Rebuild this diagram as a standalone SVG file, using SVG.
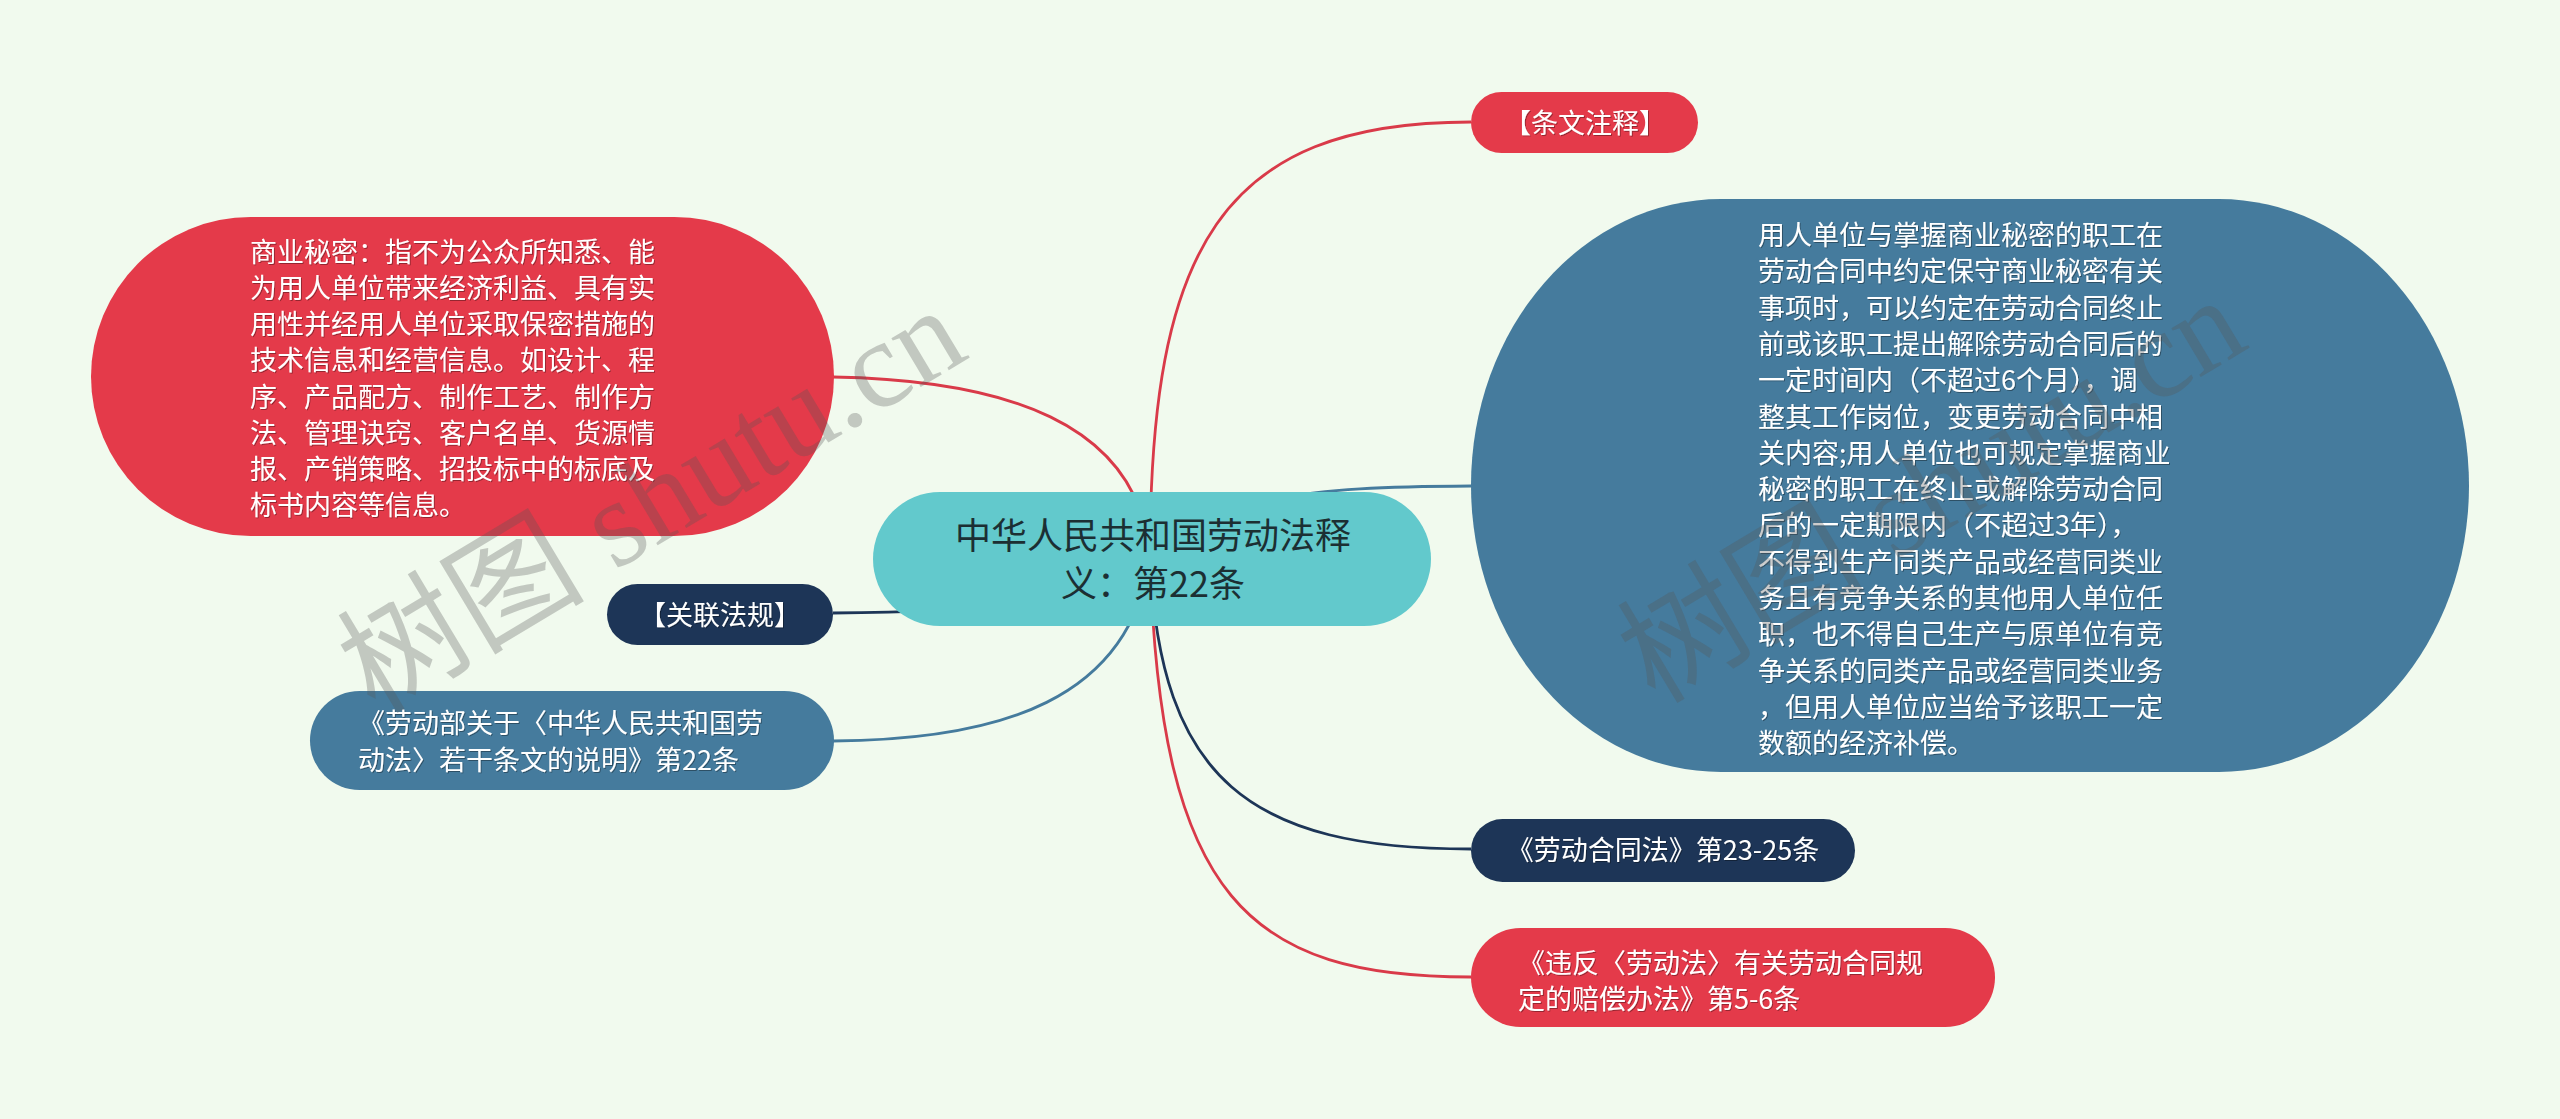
<svg xmlns="http://www.w3.org/2000/svg" width="2560" height="1119" viewBox="0 0 2560 1119">
<defs>
<filter id="sh" x="-5%" y="-5%" width="110%" height="110%">
<feDropShadow dx="1" dy="1" stdDeviation="0.6" flood-color="#000" flood-opacity="0.35"/>
</filter>
<style>
.t{font-family:"Noto Sans CJK SC","Noto Sans",sans-serif;font-size:27px;fill:#ffffff;}
.c{font-family:"Noto Sans CJK SC","Noto Sans",sans-serif;font-size:36px;fill:#1c2f33;}
.red{fill:#e43a4a;}
.blue{fill:#457b9d;}
.navy{fill:#1d3557;}
.teal{fill:#62c9cc;}
.ln{fill:none;stroke-width:2.8;}
.lr{stroke:#d93a49;}
.lb{stroke:#457b9d;}
.ln2{stroke:#1d3557;}
.wm{font-family:"Liberation Serif","Noto Sans CJK SC",serif;font-size:124px;fill:#555555;fill-opacity:0.3;}
</style>
</defs>
<rect x="0" y="0" width="2560" height="1119" fill="#f1faee"/>
<g id="connectors">
<path class="ln lr" d="M1150,558 C1150,250 1220,122 1471,122"/>
<path class="ln lr" d="M833,377 C1000,380 1140,420 1150,558"/>
<path class="ln lb" d="M1150,558 C1230,495 1300,487 1471,486"/>
<path class="ln ln2" d="M833,613 C1000,612 1100,600 1150,558"/>
<path class="ln lb" d="M833,741 C1000,740 1130,700 1150,558"/>
<path class="ln ln2" d="M1150,558 C1160,780 1250,849 1471,849"/>
<path class="ln lr" d="M1150,558 C1160,900 1250,977 1471,977"/>
</g>
<g id="node-center">
<rect class="teal" x="873" y="492" width="558" height="134" rx="67" ry="67"/>
<text class="c" x="1153" y="549" text-anchor="middle">中华人民共和国劳动法释</text>
<text class="c" x="1153" y="597" text-anchor="middle">义：第22条</text>
</g>
<g id="node-tiaowen">
<rect class="red" x="1471" y="92" width="227" height="61" rx="30.5"/>
<text class="t" x="1585" y="133" text-anchor="middle" filter="url(#sh)">【条文注释】</text>
</g>
<g id="node-shangye">
<rect class="red" x="91" y="217" width="743" height="319" rx="159.5"/>
<g filter="url(#sh)">
<text class="t" x="250" y="262">商业秘密：指不为公众所知悉、能</text>
<text class="t" x="250" y="298">为用人单位带来经济利益、具有实</text>
<text class="t" x="250" y="334">用性并经用人单位采取保密措施的</text>
<text class="t" x="250" y="370">技术信息和经营信息。如设计、程</text>
<text class="t" x="250" y="407">序、产品配方、制作工艺、制作方</text>
<text class="t" x="250" y="443">法、管理诀窍、客户名单、货源情</text>
<text class="t" x="250" y="479">报、产销策略、招投标中的标底及</text>
<text class="t" x="250" y="515">标书内容等信息。</text>
</g>
</g>
<g id="node-yongren">
<rect class="blue" x="1471" y="199" width="998" height="573" rx="250" ry="286.5"/>
<g filter="url(#sh)">
<text class="t" x="1758" y="245">用人单位与掌握商业秘密的职工在</text>
<text class="t" x="1758" y="281">劳动合同中约定保守商业秘密有关</text>
<text class="t" x="1758" y="318">事项时，可以约定在劳动合同终止</text>
<text class="t" x="1758" y="354">前或该职工提出解除劳动合同后的</text>
<text class="t" x="1758" y="390">一定时间内（不超过6个月），调</text>
<text class="t" x="1758" y="427">整其工作岗位，变更劳动合同中相</text>
<text class="t" x="1758" y="463">关内容;用人单位也可规定掌握商业</text>
<text class="t" x="1758" y="499">秘密的职工在终止或解除劳动合同</text>
<text class="t" x="1758" y="535">后的一定期限内（不超过3年），</text>
<text class="t" x="1758" y="572">不得到生产同类产品或经营同类业</text>
<text class="t" x="1758" y="608">务且有竞争关系的其他用人单位任</text>
<text class="t" x="1758" y="644">职，也不得自己生产与原单位有竞</text>
<text class="t" x="1758" y="681">争关系的同类产品或经营同类业务</text>
<text class="t" x="1758" y="717">，但用人单位应当给予该职工一定</text>
<text class="t" x="1758" y="753">数额的经济补偿。</text>
</g>
</g>
<g id="node-guanlian">
<rect class="navy" x="607" y="584" width="226" height="61" rx="30.5"/>
<text class="t" x="720" y="625" text-anchor="middle" filter="url(#sh)">【关联法规】</text>
</g>
<g id="node-laodongbu">
<rect class="blue" x="310" y="691" width="524" height="99" rx="49.5"/>
<g filter="url(#sh)">
<text class="t" x="358" y="733">《劳动部关于〈中华人民共和国劳</text>
<text class="t" x="358" y="770">动法〉若干条文的说明》第22条</text>
</g>
</g>
<g id="node-hetongfa">
<rect class="navy" x="1471" y="819" width="384" height="63" rx="31.5"/>
<text class="t" x="1663" y="860" text-anchor="middle" filter="url(#sh)">《劳动合同法》第23-25条</text>
</g>
<g id="node-weifan">
<rect class="red" x="1471" y="928" width="524" height="99" rx="49.5"/>
<g filter="url(#sh)">
<text class="t" x="1518" y="973">《违反〈劳动法〉有关劳动合同规</text>
<text class="t" x="1518" y="1009">定的赔偿办法》第5-6条</text>
</g>
</g>
<g id="watermarks">
<text class="wm" transform="translate(375,715) rotate(-31)">树图 shutu.cn</text>
<text class="wm" transform="translate(1655,705) rotate(-31)">树图 shutu.cn</text>
</g>
</svg>
